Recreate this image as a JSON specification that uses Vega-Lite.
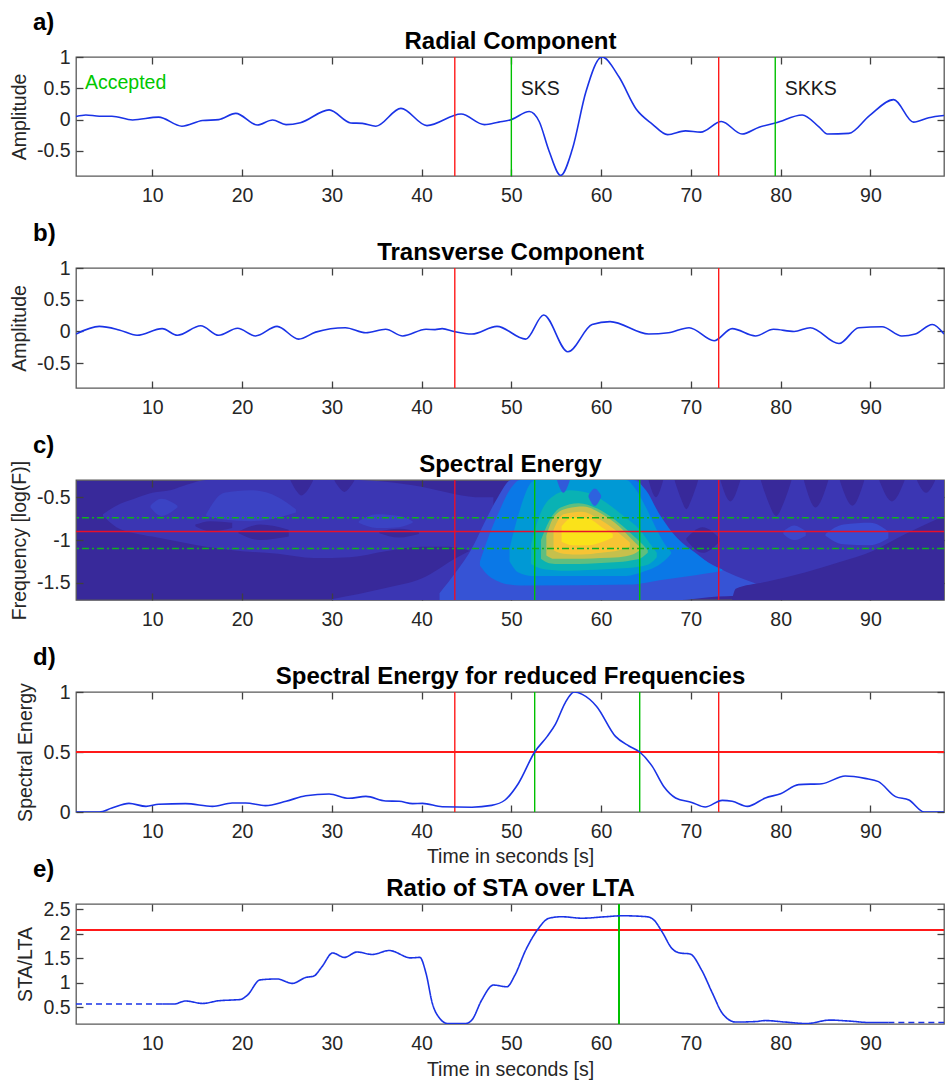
{
  "$schema": "https://vega.github.io/schema/vega-lite/v6.json",
  "background": "white",
  "padding": {"left": 8, "top": 10, "right": 0, "bottom": 0},
  "bounds": "flush",
  "spacing": 92,
  "resolve": {"scale": {"color": "independent", "strokeDash": "independent"}},
  "config": {
    "font": "Liberation Sans",
    "view": {"stroke": "#595959", "strokeWidth": 1.3},
    "axis": {
      "domain": false, "grid": false,
      "tickSize": -7, "tickWidth": 1.3, "tickColor": "#404040",
      "labelFont": "Liberation Sans", "labelFontSize": 19.5, "labelColor": "#262626", "labelPadding": 13,
      "titleFont": "Liberation Sans", "titleFontSize": 19.5, "titleFontWeight": "normal", "titleColor": "#262626", "titlePadding": 7
    },
    "title": {"font": "Liberation Sans", "fontSize": 24, "fontWeight": "bold", "color": "#000000", "anchor": "start", "frame": "group", "dx": -43, "offset": -6}
  },
  "datasets": {
    "radial": [
      {"t":1.5,"a":0.05},{"t":2.6,"a":0.075},{"t":4.1,"a":0.055},{"t":5.5,"a":0.055},{"t":7.8,"a":-0.005},{"t":10.7,"a":0.04},{"t":13.3,"a":-0.105},{"t":15.6,"a":-0.015},{"t":17.4,"a":0.0},{"t":19.3,"a":0.1},{"t":21.7,"a":-0.085},{"t":23.4,"a":-0.005},{"t":24.9,"a":-0.08},{"t":26.5,"a":-0.05},{"t":29.7,"a":0.155},{"t":32.1,"a":-0.053},{"t":33.4,"a":-0.06},{"t":34.9,"a":-0.105},{"t":37.7,"a":0.18},{"t":40.6,"a":-0.095},{"t":44.4,"a":0.09},{"t":47.0,"a":-0.08},{"t":48.6,"a":-0.04},{"t":50.0,"a":0.0},{"t":52.0,"a":0.13},{"t":53.1,"a":-0.03},{"t":54.2,"a":-0.5},{"t":55.5,"a":-0.89},{"t":56.8,"a":-0.47},{"t":58.3,"a":0.44},{"t":60.1,"a":1.0},{"t":62.0,"a":0.68},{"t":63.9,"a":0.17},{"t":65.7,"a":-0.07},{"t":67.4,"a":-0.24},{"t":69.4,"a":-0.18},{"t":71.1,"a":-0.2},{"t":73.4,"a":-0.03},{"t":75.7,"a":-0.23},{"t":77.6,"a":-0.12},{"t":79.5,"a":-0.05},{"t":82.4,"a":0.075},{"t":84.3,"a":-0.12},{"t":85.2,"a":-0.23},{"t":87.6,"a":-0.22},{"t":89.9,"a":0.065},{"t":92.6,"a":0.32},{"t":94.8,"a":-0.04},{"t":96.5,"a":0.03},{"t":98.2,"a":0.065}
    ],
    "transverse": [
      {"t":1.5,"a":-0.04},{"t":4.1,"a":0.08},{"t":6.3,"a":0.025},{"t":8.3,"a":-0.06},{"t":11.1,"a":0.045},{"t":12.8,"a":-0.06},{"t":15.4,"a":0.09},{"t":17.4,"a":-0.06},{"t":19.5,"a":0.05},{"t":21.5,"a":-0.07},{"t":23.9,"a":0.08},{"t":26.3,"a":-0.12},{"t":28.2,"a":-0.01},{"t":31.5,"a":0.06},{"t":33.8,"a":-0.02},{"t":36.0,"a":0.035},{"t":37.9,"a":-0.07},{"t":40.5,"a":0.035},{"t":41.5,"a":0.03},{"t":42.3,"a":0.045},{"t":43.6,"a":0.0},{"t":45.6,"a":-0.04},{"t":48.4,"a":0.08},{"t":51.6,"a":-0.12},{"t":53.6,"a":0.26},{"t":56.3,"a":-0.32},{"t":59.0,"a":0.11},{"t":61.0,"a":0.155},{"t":65.3,"a":-0.04},{"t":67.5,"a":-0.02},{"t":69.8,"a":0.06},{"t":72.6,"a":-0.145},{"t":74.6,"a":0.045},{"t":77.2,"a":-0.07},{"t":79.2,"a":0.035},{"t":81.5,"a":0.0},{"t":83.3,"a":0.06},{"t":86.5,"a":-0.19},{"t":88.7,"a":0.06},{"t":91.3,"a":0.075},{"t":93.5,"a":-0.07},{"t":95.0,"a":-0.04},{"t":96.9,"a":0.11},{"t":98.2,"a":-0.04}
    ],
    "energy": [
      {"t":1.5,"s":0},{"t":4.1,"s":0},{"t":5.5,"s":0.033},{"t":7.4,"s":0.072},{"t":9.3,"s":0.047},{"t":10.7,"s":0.064},{"t":13.7,"s":0.07},{"t":16.7,"s":0.047},{"t":18.9,"s":0.075},{"t":20.4,"s":0.075},{"t":22.6,"s":0.053},{"t":24.9,"s":0.089},{"t":27.1,"s":0.136},{"t":29.7,"s":0.15},{"t":31.9,"s":0.114},{"t":33.8,"s":0.13},{"t":36.0,"s":0.092},{"t":37.5,"s":0.089},{"t":39.0,"s":0.07},{"t":40.1,"s":0.072},{"t":42.3,"s":0.044},{"t":45.6,"s":0.04},{"t":47.8,"s":0.055},{"t":49.3,"s":0.1},{"t":50.8,"s":0.24},{"t":52.6,"s":0.5},{"t":54.0,"s":0.63},{"t":54.9,"s":0.73},{"t":56.0,"s":0.91},{"t":57.0,"s":1.0},{"t":57.9,"s":0.98},{"t":59.5,"s":0.88},{"t":61.6,"s":0.63},{"t":63.1,"s":0.55},{"t":64.3,"s":0.5},{"t":65.7,"s":0.38},{"t":67.0,"s":0.21},{"t":68.3,"s":0.117},{"t":70.1,"s":0.08},{"t":71.6,"s":0.042},{"t":73.5,"s":0.097},{"t":74.6,"s":0.089},{"t":76.3,"s":0.047},{"t":78.3,"s":0.117},{"t":80.0,"s":0.153},{"t":82.0,"s":0.228},{"t":84.6,"s":0.236},{"t":87.2,"s":0.3},{"t":89.4,"s":0.28},{"t":90.9,"s":0.253},{"t":92.8,"s":0.128},{"t":94.3,"s":0.1},{"t":96.0,"s":0.0},{"t":98.2,"s":0.0}
    ],
    "stalta": [
      {"seg":"pre","style":"dashed","t":1.5,"r":0.567},{"seg":"pre","style":"dashed","t":11.1,"r":0.567},
      {"seg":"main","style":"solid","t":11.1,"r":0.567},{"seg":"main","style":"solid","t":12.4,"r":0.567},{"seg":"main","style":"solid","t":13.7,"r":0.63},{"seg":"main","style":"solid","t":15.6,"r":0.58},{"seg":"main","style":"solid","t":17.4,"r":0.635},{"seg":"main","style":"solid","t":18.9,"r":0.65},{"seg":"main","style":"solid","t":19.8,"r":0.66},{"seg":"main","style":"solid","t":20.6,"r":0.75},{"seg":"main","style":"solid","t":22.0,"r":1.06},{"seg":"main","style":"solid","t":23.9,"r":1.08},{"seg":"main","style":"solid","t":25.6,"r":0.99},{"seg":"main","style":"solid","t":27.1,"r":1.11},{"seg":"main","style":"solid","t":28.0,"r":1.14},{"seg":"main","style":"solid","t":28.9,"r":1.33},{"seg":"main","style":"solid","t":30.1,"r":1.61},{"seg":"main","style":"solid","t":31.4,"r":1.52},{"seg":"main","style":"solid","t":32.8,"r":1.63},{"seg":"main","style":"solid","t":34.5,"r":1.58},{"seg":"main","style":"solid","t":36.4,"r":1.66},{"seg":"main","style":"solid","t":38.8,"r":1.51},{"seg":"main","style":"solid","t":39.8,"r":1.52},{"seg":"main","style":"solid","t":40.5,"r":1.19},{"seg":"main","style":"solid","t":41.2,"r":0.58},{"seg":"main","style":"solid","t":42.0,"r":0.28},{"seg":"main","style":"solid","t":42.9,"r":0.17},{"seg":"main","style":"solid","t":44.9,"r":0.17},{"seg":"main","style":"solid","t":45.6,"r":0.24},{"seg":"main","style":"solid","t":46.7,"r":0.65},{"seg":"main","style":"solid","t":48.0,"r":0.955},{"seg":"main","style":"solid","t":49.5,"r":0.92},{"seg":"main","style":"solid","t":50.4,"r":1.16},{"seg":"main","style":"solid","t":51.6,"r":1.67},{"seg":"main","style":"solid","t":52.9,"r":2.08},{"seg":"main","style":"solid","t":54.2,"r":2.32},{"seg":"main","style":"solid","t":55.6,"r":2.35},{"seg":"main","style":"solid","t":57.9,"r":2.32},{"seg":"main","style":"solid","t":60.5,"r":2.35},{"seg":"main","style":"solid","t":62.4,"r":2.37},{"seg":"main","style":"solid","t":65.1,"r":2.35},{"seg":"main","style":"solid","t":65.9,"r":2.28},{"seg":"main","style":"solid","t":66.8,"r":2.04},{"seg":"main","style":"solid","t":67.9,"r":1.7},{"seg":"main","style":"solid","t":68.8,"r":1.61},{"seg":"main","style":"solid","t":69.9,"r":1.59},{"seg":"main","style":"solid","t":71.2,"r":1.26},{"seg":"main","style":"solid","t":72.4,"r":0.79},{"seg":"main","style":"solid","t":73.5,"r":0.38},{"seg":"main","style":"solid","t":75.0,"r":0.2},{"seg":"main","style":"solid","t":77.2,"r":0.21},{"seg":"main","style":"solid","t":78.3,"r":0.23},{"seg":"main","style":"solid","t":80.5,"r":0.2},{"seg":"main","style":"solid","t":82.9,"r":0.17},{"seg":"main","style":"solid","t":85.5,"r":0.24},{"seg":"main","style":"solid","t":87.6,"r":0.22},{"seg":"main","style":"solid","t":90.0,"r":0.19},{"seg":"main","style":"solid","t":92.0,"r":0.19},
      {"seg":"post","style":"dashed","t":92.0,"r":0.19},{"seg":"post","style":"dashed","t":98.2,"r":0.19}
    ],
    "spectrum": [
      {"id":"L","e":0.1,"t":4.5,"lo":-0.72,"hi":-0.7},{"id":"L","e":0.1,"t":6,"lo":-0.85,"hi":-0.6},{"id":"L","e":0.1,"t":8,"lo":-0.92,"hi":-0.52},{"id":"L","e":0.1,"t":10,"lo":-0.96,"hi":-0.45},{"id":"L","e":0.1,"t":12,"lo":-1.0,"hi":-0.42},{"id":"L","e":0.1,"t":14,"lo":-1.04,"hi":-0.35},{"id":"L","e":0.1,"t":16,"lo":-1.08,"hi":-0.3},{"id":"L","e":0.1,"t":20,"lo":-1.13,"hi":-0.3},{"id":"L","e":0.1,"t":24,"lo":-1.16,"hi":-0.3},{"id":"L","e":0.1,"t":28,"lo":-1.21,"hi":-0.3},{"id":"L","e":0.1,"t":32,"lo":-1.2,"hi":-0.3},{"id":"L","e":0.1,"t":36,"lo":-1.13,"hi":-0.32},{"id":"L","e":0.1,"t":40,"lo":-1.08,"hi":-0.38},{"id":"L","e":0.1,"t":43,"lo":-1.08,"hi":-0.45},{"id":"L","e":0.1,"t":46,"lo":-1.15,"hi":-0.5},{"id":"L","e":0.1,"t":48,"lo":-1.25,"hi":-0.5},
      {"id":"F","e":0.1,"t":30,"lo":-1.7,"hi":-1.69},{"id":"F","e":0.1,"t":36,"lo":-1.7,"hi":-1.56},{"id":"F","e":0.1,"t":40,"lo":-1.7,"hi":-1.45},{"id":"F","e":0.1,"t":44,"lo":-1.7,"hi":-1.2},{"id":"F","e":0.1,"t":48,"lo":-1.7,"hi":-1.0},
      {"id":"R","e":0.1,"t":63,"lo":-1.65,"hi":-0.3},{"id":"R","e":0.1,"t":80,"lo":-1.65,"hi":-0.3},{"id":"R","e":0.1,"t":98.2,"lo":-1.65,"hi":-0.3},
      {"id":"LF1","e":0,"t":25.4,"lo":-0.31,"hi":-0.3},{"id":"LF1","e":0,"t":26,"lo":-0.42,"hi":-0.3},{"id":"LF1","e":0,"t":26.6,"lo":-0.48,"hi":-0.3},{"id":"LF1","e":0,"t":27.3,"lo":-0.42,"hi":-0.3},{"id":"LF1","e":0,"t":27.9,"lo":-0.31,"hi":-0.3},
      {"id":"LF2","e":0,"t":30.3,"lo":-0.31,"hi":-0.3},{"id":"LF2","e":0,"t":30.9,"lo":-0.4,"hi":-0.3},{"id":"LF2","e":0,"t":31.4,"lo":-0.44,"hi":-0.3},{"id":"LF2","e":0,"t":31.9,"lo":-0.4,"hi":-0.3},{"id":"LF2","e":0,"t":32.5,"lo":-0.31,"hi":-0.3},
      {"id":"H1","e":0,"t":14.8,"lo":-0.84,"hi":-0.82},{"id":"H1","e":0,"t":16.5,"lo":-0.9,"hi":-0.78},{"id":"H1","e":0,"t":18.9,"lo":-0.86,"hi":-0.8},
      {"id":"H2","e":0,"t":19.6,"lo":-0.92,"hi":-0.9},{"id":"H2","e":0,"t":22,"lo":-1.0,"hi":-0.82},{"id":"H2","e":0,"t":25.2,"lo":-0.96,"hi":-0.88},
      {"id":"H3","e":0,"t":35.3,"lo":-0.92,"hi":-0.9},{"id":"H3","e":0,"t":37.5,"lo":-0.97,"hi":-0.87},{"id":"H3","e":0,"t":39.7,"lo":-0.93,"hi":-0.91},
      {"id":"Fa","e":0,"t":65.3,"lo":-0.31,"hi":-0.3},{"id":"Fa","e":0,"t":66.1,"lo":-0.5,"hi":-0.3},{"id":"Fa","e":0,"t":66.9,"lo":-0.31,"hi":-0.3},
      {"id":"Fb","e":0,"t":68.2,"lo":-0.31,"hi":-0.3},{"id":"Fb","e":0,"t":68.9,"lo":-0.52,"hi":-0.3},{"id":"Fb","e":0,"t":69.5,"lo":-0.64,"hi":-0.3},{"id":"Fb","e":0,"t":70.1,"lo":-0.52,"hi":-0.3},{"id":"Fb","e":0,"t":70.8,"lo":-0.31,"hi":-0.3},
      {"id":"Fc","e":0,"t":73.3,"lo":-0.31,"hi":-0.3},{"id":"Fc","e":0,"t":74.4,"lo":-0.55,"hi":-0.3},{"id":"Fc","e":0,"t":75.5,"lo":-0.31,"hi":-0.3},
      {"id":"Fd","e":0,"t":77.8,"lo":-0.31,"hi":-0.3},{"id":"Fd","e":0,"t":78.6,"lo":-0.55,"hi":-0.3},{"id":"Fd","e":0,"t":79.5,"lo":-0.72,"hi":-0.3},{"id":"Fd","e":0,"t":80.4,"lo":-0.55,"hi":-0.3},{"id":"Fd","e":0,"t":81.2,"lo":-0.31,"hi":-0.3},
      {"id":"Fe","e":0,"t":82.6,"lo":-0.31,"hi":-0.3},{"id":"Fe","e":0,"t":83.9,"lo":-0.62,"hi":-0.3},{"id":"Fe","e":0,"t":85.3,"lo":-0.31,"hi":-0.3},
      {"id":"Ff","e":0,"t":86.6,"lo":-0.31,"hi":-0.3},{"id":"Ff","e":0,"t":88,"lo":-0.6,"hi":-0.3},{"id":"Ff","e":0,"t":89.3,"lo":-0.31,"hi":-0.3},
      {"id":"Fg","e":0,"t":91,"lo":-0.31,"hi":-0.3},{"id":"Fg","e":0,"t":92.4,"lo":-0.55,"hi":-0.3},{"id":"Fg","e":0,"t":93.8,"lo":-0.31,"hi":-0.3},
      {"id":"Fh","e":0,"t":95.2,"lo":-0.31,"hi":-0.3},{"id":"Fh","e":0,"t":96.2,"lo":-0.45,"hi":-0.3},{"id":"Fh","e":0,"t":97.2,"lo":-0.31,"hi":-0.3},
      {"id":"Hr","e":0,"t":69.5,"lo":-1.0,"hi":-0.98},{"id":"Hr","e":0,"t":71.3,"lo":-1.15,"hi":-0.85},{"id":"Hr","e":0,"t":73.2,"lo":-1.02,"hi":-0.98},
      {"id":"S1","e":0.16,"t":9.8,"lo":-0.62,"hi":-0.6},{"id":"S1","e":0.16,"t":11,"lo":-0.72,"hi":-0.52},{"id":"S1","e":0.16,"t":12.8,"lo":-0.62,"hi":-0.6},
      {"id":"S2","e":0.16,"t":16,"lo":-0.72,"hi":-0.7},{"id":"S2","e":0.16,"t":18,"lo":-0.76,"hi":-0.45},{"id":"S2","e":0.16,"t":21,"lo":-0.78,"hi":-0.42},{"id":"S2","e":0.16,"t":24,"lo":-0.74,"hi":-0.5},{"id":"S2","e":0.16,"t":26,"lo":-0.68,"hi":-0.64},
      {"id":"S3","e":0.16,"t":33,"lo":-0.8,"hi":-0.78},{"id":"S3","e":0.16,"t":35,"lo":-0.86,"hi":-0.7},{"id":"S3","e":0.16,"t":37.5,"lo":-0.85,"hi":-0.72},{"id":"S3","e":0.16,"t":39,"lo":-0.8,"hi":-0.78},
      {"id":"R1","e":0.2,"t":85,"lo":-0.95,"hi":-0.93},{"id":"R1","e":0.2,"t":87,"lo":-1.05,"hi":-0.82},{"id":"R1","e":0.2,"t":90,"lo":-1.06,"hi":-0.8},{"id":"R1","e":0.2,"t":92,"lo":-0.98,"hi":-0.9},
      {"id":"R2","e":0.18,"t":80.3,"lo":-0.93,"hi":-0.9},{"id":"R2","e":0.18,"t":81.5,"lo":-1.0,"hi":-0.83},{"id":"R2","e":0.18,"t":82.8,"lo":-0.95,"hi":-0.9},
      {"id":"B2","e":0.22,"t":42,"lo":-1.7,"hi":-1.62},{"id":"B2","e":0.22,"t":44,"lo":-1.7,"hi":-1.35},{"id":"B2","e":0.22,"t":45.6,"lo":-1.7,"hi":-1.1},{"id":"B2","e":0.22,"t":47,"lo":-1.7,"hi":-0.8},{"id":"B2","e":0.22,"t":48.5,"lo":-1.7,"hi":-0.5},{"id":"B2","e":0.22,"t":50,"lo":-1.7,"hi":-0.3},{"id":"B2","e":0.22,"t":64,"lo":-1.7,"hi":-0.3},{"id":"B2","e":0.22,"t":65.5,"lo":-1.7,"hi":-0.6},{"id":"B2","e":0.22,"t":67,"lo":-1.7,"hi":-0.85},{"id":"B2","e":0.22,"t":69,"lo":-1.7,"hi":-1.05},{"id":"B2","e":0.22,"t":71,"lo":-1.68,"hi":-1.2},{"id":"B2","e":0.22,"t":73,"lo":-1.66,"hi":-1.32},{"id":"B2","e":0.22,"t":75,"lo":-1.65,"hi":-1.42},{"id":"B2","e":0.22,"t":77,"lo":-1.64,"hi":-1.5},{"id":"B2","e":0.22,"t":79,"lo":-1.62,"hi":-1.58},
      {"id":"B3","e":0.32,"t":46.5,"lo":-1.3,"hi":-1.25},{"id":"B3","e":0.32,"t":47.5,"lo":-1.42,"hi":-0.95},{"id":"B3","e":0.32,"t":48.5,"lo":-1.48,"hi":-0.7},{"id":"B3","e":0.32,"t":49.8,"lo":-1.52,"hi":-0.42},{"id":"B3","e":0.32,"t":51,"lo":-1.53,"hi":-0.3},{"id":"B3","e":0.32,"t":63.5,"lo":-1.52,"hi":-0.3},{"id":"B3","e":0.32,"t":65,"lo":-1.5,"hi":-0.42},{"id":"B3","e":0.32,"t":66.5,"lo":-1.47,"hi":-0.7},{"id":"B3","e":0.32,"t":68.5,"lo":-1.44,"hi":-0.98},{"id":"B3","e":0.32,"t":70.5,"lo":-1.41,"hi":-1.15},{"id":"B3","e":0.32,"t":72.5,"lo":-1.38,"hi":-1.3},{"id":"B3","e":0.32,"t":73.5,"lo":-1.36,"hi":-1.34},
      {"id":"B4","e":0.42,"t":49.8,"lo":-1.25,"hi":-1.1},{"id":"B4","e":0.42,"t":50.8,"lo":-1.38,"hi":-0.7},{"id":"B4","e":0.42,"t":52.3,"lo":-1.42,"hi":-0.32},{"id":"B4","e":0.42,"t":52.8,"lo":-1.42,"hi":-0.3},{"id":"B4","e":0.42,"t":62.8,"lo":-1.42,"hi":-0.3},{"id":"B4","e":0.42,"t":63.8,"lo":-1.4,"hi":-0.4},{"id":"B4","e":0.42,"t":65,"lo":-1.36,"hi":-0.62},{"id":"B4","e":0.42,"t":66.3,"lo":-1.3,"hi":-0.9},{"id":"B4","e":0.42,"t":67.3,"lo":-1.22,"hi":-1.08},{"id":"B4","e":0.42,"t":67.8,"lo":-1.16,"hi":-1.14},
      {"id":"B5","e":0.52,"t":52.2,"lo":-1.28,"hi":-1.05},{"id":"B5","e":0.52,"t":53.2,"lo":-1.33,"hi":-0.7},{"id":"B5","e":0.52,"t":54.5,"lo":-1.35,"hi":-0.5},{"id":"B5","e":0.52,"t":56.5,"lo":-1.36,"hi":-0.42},{"id":"B5","e":0.52,"t":58.5,"lo":-1.35,"hi":-0.45},{"id":"B5","e":0.52,"t":60.5,"lo":-1.34,"hi":-0.56},{"id":"B5","e":0.52,"t":62.5,"lo":-1.33,"hi":-0.72},{"id":"B5","e":0.52,"t":64.3,"lo":-1.31,"hi":-0.88},{"id":"B5","e":0.52,"t":65.5,"lo":-1.27,"hi":-1.05},{"id":"B5","e":0.52,"t":66.2,"lo":-1.2,"hi":-1.15},
      {"id":"B6","e":0.62,"t":53.3,"lo":-1.22,"hi":-1.0},{"id":"B6","e":0.62,"t":54.2,"lo":-1.27,"hi":-0.78},{"id":"B6","e":0.62,"t":55.5,"lo":-1.28,"hi":-0.62},{"id":"B6","e":0.62,"t":57.5,"lo":-1.28,"hi":-0.57},{"id":"B6","e":0.62,"t":59.5,"lo":-1.27,"hi":-0.63},{"id":"B6","e":0.62,"t":61.5,"lo":-1.26,"hi":-0.76},{"id":"B6","e":0.62,"t":63.3,"lo":-1.24,"hi":-0.92},{"id":"B6","e":0.62,"t":64.6,"lo":-1.2,"hi":-1.05},{"id":"B6","e":0.62,"t":65.2,"lo":-1.15,"hi":-1.12},
      {"id":"B7","e":0.75,"t":53.9,"lo":-1.18,"hi":-0.95},{"id":"B7","e":0.75,"t":54.8,"lo":-1.22,"hi":-0.72},{"id":"B7","e":0.75,"t":56.3,"lo":-1.22,"hi":-0.63},{"id":"B7","e":0.75,"t":58,"lo":-1.22,"hi":-0.61},{"id":"B7","e":0.75,"t":60,"lo":-1.21,"hi":-0.69},{"id":"B7","e":0.75,"t":62,"lo":-1.2,"hi":-0.84},{"id":"B7","e":0.75,"t":63.5,"lo":-1.17,"hi":-1.0},{"id":"B7","e":0.75,"t":64.3,"lo":-1.12,"hi":-1.08},
      {"id":"B8","e":0.87,"t":54.7,"lo":-1.12,"hi":-0.88},{"id":"B8","e":0.87,"t":55.8,"lo":-1.16,"hi":-0.7},{"id":"B8","e":0.87,"t":57.8,"lo":-1.17,"hi":-0.67},{"id":"B8","e":0.87,"t":60,"lo":-1.15,"hi":-0.77},{"id":"B8","e":0.87,"t":62,"lo":-1.12,"hi":-0.92},{"id":"B8","e":0.87,"t":63.2,"lo":-1.08,"hi":-1.03},
      {"id":"B9","e":1.0,"t":55.6,"lo":-1.02,"hi":-0.84},{"id":"B9","e":1.0,"t":56.8,"lo":-1.06,"hi":-0.74},{"id":"B9","e":1.0,"t":58.5,"lo":-1.06,"hi":-0.75},{"id":"B9","e":1.0,"t":60.2,"lo":-1.02,"hi":-0.86},{"id":"B9","e":1.0,"t":61.3,"lo":-0.97,"hi":-0.93},
      {"id":"BH1","e":0.24,"t":55.1,"lo":-0.31,"hi":-0.3},{"id":"BH1","e":0.24,"t":55.8,"lo":-0.45,"hi":-0.3},{"id":"BH1","e":0.24,"t":56.5,"lo":-0.31,"hi":-0.3},
      {"id":"BH2","e":0.26,"t":58.6,"lo":-0.5,"hi":-0.48},{"id":"BH2","e":0.26,"t":59.3,"lo":-0.6,"hi":-0.4},{"id":"BH2","e":0.26,"t":60,"lo":-0.5,"hi":-0.48},
      {"id":"M","e":0,"t":74.6,"lo":-1.7,"hi":-1.69},{"id":"M","e":0,"t":75,"lo":-1.7,"hi":-1.57},{"id":"M","e":0,"t":78.3,"lo":-1.7,"hi":-1.49},{"id":"M","e":0,"t":82.7,"lo":-1.7,"hi":-1.38},{"id":"M","e":0,"t":86.5,"lo":-1.7,"hi":-1.26},{"id":"M","e":0,"t":90.2,"lo":-1.7,"hi":-1.13},{"id":"M","e":0,"t":93.9,"lo":-1.7,"hi":-0.93},{"id":"M","e":0,"t":98.2,"lo":-1.7,"hi":-0.72}
    ],
    "picksA": [{"t":43.7,"kind":"window"},{"t":73.1,"kind":"window"},{"t":50.0,"kind":"pick"},{"t":79.4,"kind":"pick"}],
    "windowB": [{"t":43.7,"kind":"window"},{"t":73.1,"kind":"window"}],
    "picksCD": [{"t":43.7,"kind":"window"},{"t":73.1,"kind":"window"},{"t":52.6,"kind":"pick"},{"t":64.3,"kind":"pick"}],
    "bandC": [{"f":-0.74,"kind":"band"},{"f":-1.1,"kind":"band"},{"f":-0.9,"kind":"center"}],
    "labelsA": [{"t":2.5,"a":0.585,"label":"Accepted","kind":"status"},{"t":51.05,"a":0.49,"label":"SKS","kind":"phase"},{"t":80.46,"a":0.49,"label":"SKKS","kind":"phase"}]
  },
  "vconcat": [
    {
      "width": 868, "height": 119,
      "title": {"text": "a)"},
      "data": {"name": "radial"},
      "resolve": {"axis": {"x": "independent", "y": "independent"}, "scale": {"color": "independent"}},
      "layer": [
        {
          "mark": {"type": "line", "color": "#1a33e6", "strokeWidth": 1.6, "interpolate": "monotone", "clip": true},
          "encoding": {
            "x": {"field": "t", "type": "quantitative", "scale": {"domain": [1.5, 98.2], "nice": false, "zero": false}, "axis": {"orient": "bottom", "values": [10,20,30,40,50,60,70,80,90], "labelPadding": 17, "title": null}},
            "y": {"field": "a", "type": "quantitative", "scale": {"domain": [-0.9, 1], "nice": false, "zero": false}, "axis": {"orient": "left", "values": [-0.5,0,0.5,1], "labelExpr": "'' + datum.value", "title": "Amplitude"}}
          }
        },
        {
          "mark": {"type": "line", "strokeOpacity": 0},
          "encoding": {
            "x": {"field": "t", "type": "quantitative", "axis": {"orient": "top", "values": [10,20,30,40,50,60,70,80,90], "labels": false, "title": "Radial Component", "titleFontSize": 24, "titleFontWeight": "bold", "titleColor": "#000000", "titlePadding": 3}},
            "y": {"field": "a", "type": "quantitative", "axis": {"orient": "right", "values": [-0.5,0,0.5,1], "labels": false, "title": null}}
          }
        },
        {
          "data": {"name": "picksA"},
          "mark": {"type": "rule", "strokeWidth": 1.4},
          "encoding": {
            "x": {"field": "t", "type": "quantitative", "axis": null},
            "color": {"field": "kind", "type": "nominal", "scale": {"domain": ["window", "pick"], "range": ["#ff1a1a", "#00c000"]}, "legend": null}
          }
        },
        {
          "data": {"name": "labelsA"},
          "mark": {"type": "text", "align": "left", "baseline": "middle", "fontSize": 19.5, "font": "Liberation Sans"},
          "encoding": {
            "x": {"field": "t", "type": "quantitative", "axis": null},
            "y": {"field": "a", "type": "quantitative", "axis": null},
            "text": {"field": "label"},
            "color": {"field": "kind", "type": "nominal", "scale": {"domain": ["status", "phase"], "range": ["#00c800", "#1a1a1a"]}, "legend": null}
          }
        }
      ]
    },
    {
      "width": 868, "height": 120,
      "title": {"text": "b)"},
      "data": {"name": "transverse"},
      "resolve": {"axis": {"x": "independent", "y": "independent"}},
      "layer": [
        {
          "mark": {"type": "line", "color": "#1a33e6", "strokeWidth": 1.6, "interpolate": "monotone", "clip": true},
          "encoding": {
            "x": {"field": "t", "type": "quantitative", "scale": {"domain": [1.5, 98.2], "nice": false, "zero": false}, "axis": {"orient": "bottom", "values": [10,20,30,40,50,60,70,80,90], "labelPadding": 17, "title": null}},
            "y": {"field": "a", "type": "quantitative", "scale": {"domain": [-0.89, 1], "nice": false, "zero": false}, "axis": {"orient": "left", "values": [-0.5,0,0.5,1], "labelExpr": "'' + datum.value", "title": "Amplitude"}}
          }
        },
        {
          "mark": {"type": "line", "strokeOpacity": 0},
          "encoding": {
            "x": {"field": "t", "type": "quantitative", "axis": {"orient": "top", "values": [10,20,30,40,50,60,70,80,90], "labels": false, "title": "Transverse Component", "titleFontSize": 24, "titleFontWeight": "bold", "titleColor": "#000000", "titlePadding": 3}},
            "y": {"field": "a", "type": "quantitative", "axis": {"orient": "right", "values": [-0.5,0,0.5,1], "labels": false, "title": null}}
          }
        },
        {
          "data": {"name": "windowB"},
          "mark": {"type": "rule", "strokeWidth": 1.4, "color": "#ff1a1a"},
          "encoding": {"x": {"field": "t", "type": "quantitative", "axis": null}}
        }
      ]
    },
    {
      "width": 868, "height": 120,
      "title": {"text": "c)"},
      "view": {"fill": "#38299a"},
      "data": {"name": "spectrum"},
      "resolve": {"axis": {"x": "independent", "y": "independent"}, "scale": {"color": "independent", "strokeDash": "independent"}},
      "layer": [
        {
          "mark": {"type": "area", "interpolate": "monotone", "clip": true, "opacity": 1},
          "encoding": {
            "x": {"field": "t", "type": "quantitative", "scale": {"domain": [1.5, 98.2], "nice": false, "zero": false}, "axis": {"orient": "bottom", "values": [10,20,30,40,50,60,70,80,90], "labelPadding": 17, "title": null}},
            "y": {"field": "lo", "type": "quantitative", "scale": {"domain": [-1.7, -0.3], "nice": false, "zero": false}, "axis": {"orient": "left", "values": [-1.5,-1,-0.5], "labelExpr": "'' + datum.value", "title": "Frequency [log(F)]"}},
            "y2": {"field": "hi"},
            "detail": {"field": "id"},
            "color": {"field": "e", "type": "quantitative", "scale": {"domain": [0,0.1,0.2,0.3,0.4,0.5,0.6,0.7,0.8,0.9,1], "range": ["#38299a","#3b36b3","#3a4bd0","#2470e8","#1192d8","#12aebc","#4dbc8a","#a8c05c","#e8bc42","#fdc82c","#fae21a"]}, "legend": null}
          }
        },
        {
          "mark": {"type": "point", "opacity": 0},
          "encoding": {
            "x": {"field": "t", "type": "quantitative", "axis": {"orient": "top", "values": [10,20,30,40,50,60,70,80,90], "labels": false, "title": "Spectral Energy", "titleFontSize": 24, "titleFontWeight": "bold", "titleColor": "#000000", "titlePadding": 3}},
            "y": {"field": "lo", "type": "quantitative", "axis": {"orient": "right", "values": [-1.5,-1,-0.5], "labels": false, "title": null}}
          }
        },
        {
          "data": {"name": "bandC"},
          "mark": {"type": "rule", "strokeWidth": 1.5},
          "encoding": {
            "y": {"field": "f", "type": "quantitative", "axis": null},
            "color": {"field": "kind", "type": "nominal", "scale": {"domain": ["band", "center"], "range": ["#10b020", "#e8102a"]}, "legend": null},
            "strokeDash": {"field": "kind", "type": "nominal", "scale": {"domain": ["band", "center"], "range": [[7,3,2,3],[1,0]]}, "legend": null}
          }
        },
        {
          "data": {"name": "picksCD"},
          "mark": {"type": "rule", "strokeWidth": 1.4},
          "encoding": {
            "x": {"field": "t", "type": "quantitative", "axis": null},
            "stroke": {"field": "kind", "type": "nominal", "scale": {"domain": ["window", "pick"], "range": ["#e8102a", "#00c000"]}, "legend": null}
          }
        }
      ]
    },
    {
      "width": 868, "height": 120,
      "title": {"text": "d)"},
      "data": {"name": "energy"},
      "resolve": {"axis": {"x": "independent", "y": "independent"}},
      "layer": [
        {
          "data": {"name": "picksCD"},
          "mark": {"type": "rule", "strokeWidth": 1.4},
          "encoding": {
            "x": {"field": "t", "type": "quantitative", "scale": {"domain": [1.5, 98.2], "nice": false, "zero": false}, "axis": null},
            "color": {"field": "kind", "type": "nominal", "scale": {"domain": ["window", "pick"], "range": ["#ff1a1a", "#00c000"]}, "legend": null}
          }
        },
        {
          "mark": {"type": "rule", "strokeWidth": 1.4, "color": "#ff1a1a"},
          "encoding": {"y": {"datum": 0.5, "type": "quantitative", "axis": null}}
        },
        {
          "mark": {"type": "line", "color": "#1a33e6", "strokeWidth": 1.6, "interpolate": "monotone", "clip": true},
          "encoding": {
            "x": {"field": "t", "type": "quantitative", "scale": {"domain": [1.5, 98.2], "nice": false, "zero": false}, "axis": {"orient": "bottom", "values": [10,20,30,40,50,60,70,80,90], "labelPadding": 17, "title": "Time in seconds [s]"}},
            "y": {"field": "s", "type": "quantitative", "scale": {"domain": [0, 1], "nice": false, "zero": false}, "axis": {"orient": "left", "values": [0,0.5,1], "labelExpr": "'' + datum.value", "title": "Spectral Energy"}}
          }
        },
        {
          "mark": {"type": "line", "strokeOpacity": 0},
          "encoding": {
            "x": {"field": "t", "type": "quantitative", "axis": {"orient": "top", "values": [10,20,30,40,50,60,70,80,90], "labels": false, "title": "Spectral Energy for reduced Frequencies", "titleFontSize": 24, "titleFontWeight": "bold", "titleColor": "#000000", "titlePadding": 3}},
            "y": {"field": "s", "type": "quantitative", "axis": {"orient": "right", "values": [0,0.5,1], "labels": false, "title": null}}
          }
        }
      ]
    },
    {
      "width": 868, "height": 120,
      "title": {"text": "e)"},
      "data": {"name": "stalta"},
      "resolve": {"axis": {"x": "independent", "y": "independent"}},
      "layer": [
        {
          "mark": {"type": "rule", "strokeWidth": 1.4, "color": "#ff1a1a"},
          "encoding": {"y": {"datum": 2.08, "type": "quantitative", "scale": {"domain": [0.16, 2.61], "nice": false, "zero": false}, "axis": null}}
        },
        {
          "mark": {"type": "rule", "strokeWidth": 1.4, "color": "#00c000"},
          "encoding": {"x": {"datum": 62.0, "type": "quantitative", "scale": {"domain": [1.5, 98.2], "nice": false, "zero": false}, "axis": null}}
        },
        {
          "mark": {"type": "line", "color": "#1a33e6", "strokeWidth": 1.6, "interpolate": "monotone", "clip": true},
          "encoding": {
            "x": {"field": "t", "type": "quantitative", "scale": {"domain": [1.5, 98.2], "nice": false, "zero": false}, "axis": {"orient": "bottom", "values": [10,20,30,40,50,60,70,80,90], "tickOpacity": 0, "labelPadding": 17, "titlePadding": 8, "title": "Time in seconds [s]"}},
            "y": {"field": "r", "type": "quantitative", "scale": {"domain": [0.16, 2.61], "nice": false, "zero": false}, "axis": {"orient": "left", "values": [0.5,1,1.5,2,2.5], "labelExpr": "'' + datum.value", "title": "STA/LTA"}},
            "detail": {"field": "seg"},
            "strokeDash": {"field": "style", "type": "nominal", "scale": {"domain": ["solid", "dashed"], "range": [[1,0],[6,4]]}, "legend": null}
          }
        },
        {
          "mark": {"type": "line", "strokeOpacity": 0},
          "encoding": {
            "x": {"field": "t", "type": "quantitative", "axis": {"orient": "top", "values": [10,20,30,40,50,60,70,80,90], "labels": false, "title": "Ratio of STA over LTA", "titleFontSize": 24, "titleFontWeight": "bold", "titleColor": "#000000", "titlePadding": 3}},
            "y": {"field": "r", "type": "quantitative", "axis": {"orient": "right", "values": [0.5,1,1.5,2,2.5], "labels": false, "title": null}},
            "detail": {"field": "seg"}
          }
        }
      ]
    }
  ]
}
